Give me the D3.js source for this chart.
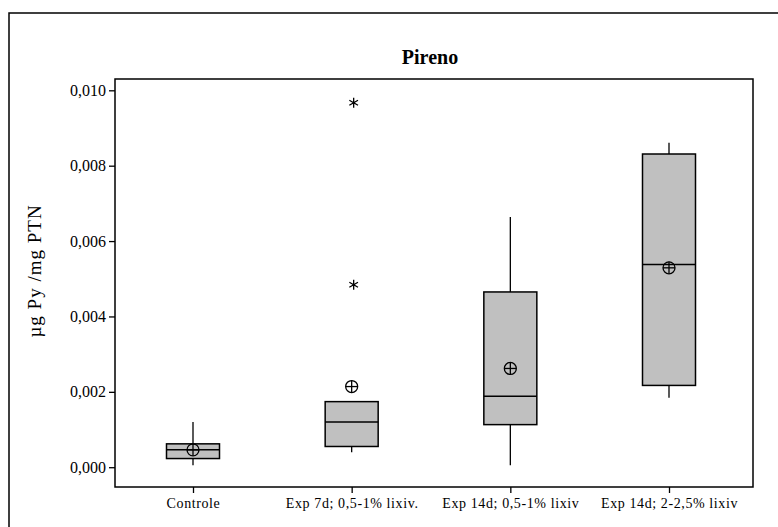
<!DOCTYPE html>
<html>
<head>
<meta charset="utf-8">
<script src="https://cdn.jsdelivr.net/npm/d3@7"></script>
<style>
  body { margin: 0; background: #fff; }
  svg text { font-family: "Liberation Serif", "Times New Roman", "DejaVu Serif", serif; fill: #000; }
</style>
</head>
<body>
<div id="chart"></div>
<script>
// Pireno - boxplot

var categories = ["Controle", "Exp 7d; 0,5-1% lixiv.", "Exp 14d; 0,5-1% lixiv", "Exp 14d; 2-2,5% lixiv"];
var whiskerLow  = [0.00005, 0.00040, 0.00005, 0.00184];
var q1          = [0.00023, 0.00055, 0.00113, 0.00217];
var median      = [0.00046, 0.00120, 0.00188, 0.00538];
var q3          = [0.00062, 0.00174, 0.00465, 0.00831];
var whiskerHigh = [0.00120, 0.00174, 0.00664, 0.00861];
var means       = [0.00046, 0.00214, 0.00262, 0.00529];
var outliers    = [[], [0.00484, 0.00967], [], []];
var yTicks = [0, 0.002, 0.004, 0.006, 0.008, 0.010];

var W = 778, H = 527;
var margin = {top: 79, right: 25, bottom: 40, left: 115};
var width = W - margin.left - margin.right,
    height = H - margin.top - margin.bottom;

var svg = d3.select("#chart").append("svg")
    .attr("width", W)
    .attr("height", H);

// outer frame (only left/top visible)
svg.append("rect")
    .attr("x", 9).attr("y", 13)
    .attr("width", W + 20).attr("height", H + 20)
    .attr("fill", "none")
    .attr("stroke", "#000")
    .attr("stroke-width", 1.5);

var g = svg.append("g")
    .attr("transform", "translate(" + margin.left + "," + margin.top + ")");

var x = d3.scalePoint()
    .domain(categories)
    .range([78, width - 84]);

var y = d3.scaleLinear()
    .domain([-0.000525, 0.0103])
    .range([height, 0]);

var fmt = function(d) { return d3.format(".3f")(d).replace(".", ","); };

var boxW = 53;

var data = categories.map(function(c, i) {
    return {name: c, lo: whiskerLow[i], q1: q1[i], med: median[i], q3: q3[i],
            hi: whiskerHigh[i], mean: means[i], out: outliers[i]};
});

var box = g.selectAll(".box")
    .data(data)
    .enter().append("g")
    .attr("class", "box")
    .attr("transform", function(d) { return "translate(" + x(d.name) + ",0)"; });

// whiskers
box.append("line")
    .attr("x1", 0).attr("x2", 0)
    .attr("y1", function(d) { return y(d.hi); })
    .attr("y2", function(d) { return y(d.q3); })
    .attr("stroke", "#000").attr("stroke-width", 1.3);
box.append("line")
    .attr("x1", 0).attr("x2", 0)
    .attr("y1", function(d) { return y(d.q1); })
    .attr("y2", function(d) { return y(d.lo); })
    .attr("stroke", "#000").attr("stroke-width", 1.3);

box.append("rect")
    .attr("x", -boxW / 2)
    .attr("width", boxW)
    .attr("y", function(d) { return y(d.q3); })
    .attr("height", function(d) { return y(d.q1) - y(d.q3); })
    .attr("fill", "#c0c0c0")
    .attr("stroke", "#000")
    .attr("stroke-width", 1.5);

box.append("line")
    .attr("x1", -boxW / 2).attr("x2", boxW / 2)
    .attr("y1", function(d) { return y(d.med); })
    .attr("y2", function(d) { return y(d.med); })
    .attr("stroke", "#000").attr("stroke-width", 1.5);

// mean symbol: circle with cross
var mean = box.append("g")
    .attr("transform", function(d) { return "translate(0," + y(d.mean) + ")"; })
    .attr("stroke", "#000").attr("stroke-width", 1.3).attr("fill", "none");
mean.append("circle").attr("r", 6);
mean.append("line").attr("x1", -6).attr("x2", 6);
mean.append("line").attr("y1", -6).attr("y2", 6);

// outliers: asterisks
var ast = d3.symbol().type(d3.symbolAsterisk).size(70);
box.selectAll(".out")
    .data(function(d) { return d.out; })
    .enter().append("path")
    .attr("class", "out")
    .attr("d", ast)
    .attr("transform", function(v) { return "translate(2," + y(v) + ")"; })
    .attr("stroke", "#000").attr("stroke-width", 1.3);

// plot frame
g.append("rect")
    .attr("width", width).attr("height", height)
    .attr("fill", "none")
    .attr("stroke", "#000")
    .attr("stroke-width", 1.5);

// axes
var yAxis = g.append("g")
    .call(d3.axisLeft(y).tickValues(yTicks).tickFormat(fmt).tickSize(6).tickSizeOuter(0));
yAxis.select(".domain").remove();
yAxis.selectAll("line").attr("stroke-width", 1.3);
yAxis.selectAll("text")
    .style("font-size", "16px")
    .attr("x", -9);

var xAxis = g.append("g")
    .attr("transform", "translate(0," + height + ")")
    .call(d3.axisBottom(x).tickSize(6).tickSizeOuter(0));
xAxis.select(".domain").remove();
xAxis.selectAll("line").attr("stroke-width", 1.3);
xAxis.selectAll("text")
    .style("font-size", "14px")
    .style("letter-spacing", "0.6px")
    .attr("y", 11);

// title
svg.append("text")
    .attr("x", margin.left + width / 2 - 4)
    .attr("y", 64)
    .attr("text-anchor", "middle")
    .style("font-size", "20px")
    .style("font-weight", "bold")
    .text("Pireno");

// y label
svg.append("text")
    .attr("transform", "translate(41,271) rotate(-90)")
    .attr("text-anchor", "middle")
    .style("font-size", "19px")
    .style("letter-spacing", "1px")
    .text("\u00b5g Py /mg PTN");
</script>
</body>
</html>
